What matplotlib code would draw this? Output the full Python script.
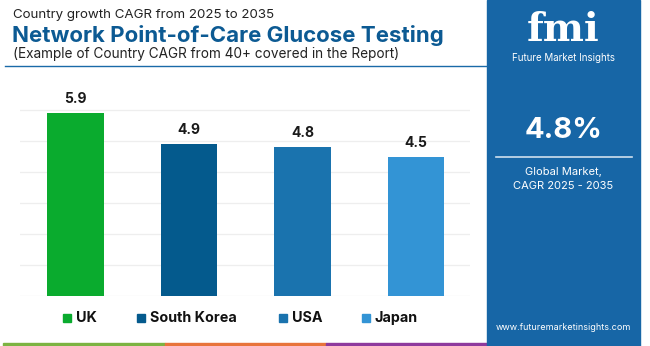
import matplotlib.pyplot as plt
from matplotlib.patches import Rectangle
from matplotlib.lines import Line2D

countries = ['UK', 'South Korea', 'USA', 'Japan']
cagr = [5.9, 4.9, 4.8, 4.5]
bar_colors = ['#0aab2e', '#045a8d', '#1a73ae', '#3394d5']
global_cagr = '4.8%'

plt.rcParams['font.family'] = ['Inter', 'DejaVu Sans']

W, H = 650, 346
fig = plt.figure(figsize=(W / 100, H / 100), dpi=100)
fig.patch.set_facecolor('white')


def px(x, y):
    return x / W, 1 - y / H


# bar chart area
ax = fig.add_axes([20 / W, (H - 296) / H, 450 / W, 196 / H])
x = range(len(countries))
bars = ax.bar(x, cagr, width=0.5, color=bar_colors, zorder=3)
for b, v in zip(bars, cagr):
    ax.text(b.get_x() + b.get_width() / 2, v + 0.22, f'{v}', ha='center',
            va='bottom', fontsize=10, fontweight='bold', color='#1a1a1a')
ax.set_xlim(-0.489, 3.475)
ax.set_ylim(0, 196 / 31)
ax.set_yticks(range(0, 7))
ax.grid(axis='y', color='#eeeeee', linewidth=0.9, zorder=0)
ax.tick_params(left=False, bottom=False, labelleft=False, labelbottom=False)
for s in ax.spines.values():
    s.set_visible(False)

# titles
fig.text(*px(13, 15), 'Country growth CAGR from 2025 to 2035', fontsize=9.6,
         color='#222222', va='center')
fig.text(*px(12, 35), 'Network Point-of-Care Glucose Testing', fontsize=16,
         fontweight='bold', color='#0c5a93', va='center')
fig.text(*px(13, 54), '(Example of Country CAGR from 40+ covered in the Report)',
         fontsize=9.8, color='#222222', va='center')
fig.add_artist(Line2D([5 / W, 487 / W], [1 - 66 / H] * 2, color='#1a6aa8', lw=1))

# legend
leg_x = [63, 137, 279, 362]
for lx, name, c in zip(leg_x, countries, bar_colors):
    fig.add_artist(Rectangle(px(lx, 322), 8 / W, 8 / H, color=c))
    fig.text(*px(lx + 13, 318), name, fontsize=10.3, fontweight='bold',
             color='#111111', va='center')

# bottom stripes
for x0, x1, c in [(3, 165, '#7cb342'), (165, 326, '#e8743b'), (326, 487, '#8e3a9d')]:
    fig.add_artist(Rectangle(px(x0, 346), (x1 - x0) / W, 3 / H, color=c))

# right panel
fig.add_artist(Rectangle(px(487, 346), 153 / W, 346 / H, color='#1766a6'))
cx = 563.5
fig.text(*px(cx, 41), 'fmi', fontsize=28, fontweight='bold', color='white',
         ha='center', va='baseline', family=['DejaVu Serif'])
fig.text(*px(cx, 58), 'Future Market Insights', fontsize=7, color='white',
         ha='center', va='center')
fig.text(*px(cx, 131), global_cagr, fontsize=21, fontweight='bold',
         color='white', ha='center', va='center')
fig.add_artist(Line2D([496 / W, 632 / W], [1 - 157 / H] * 2, color='#cfe0ee', lw=1.2))
fig.text(*px(cx, 172), 'Global Market,', fontsize=8, color='white',
         ha='center', va='center')
fig.text(*px(cx, 186), 'CAGR 2025 - 2035', fontsize=8, color='white',
         ha='center', va='center')
fig.text(*px(cx, 328), 'www.futuremarketinsights.com', fontsize=6.5,
         color='white', ha='center', va='center')

fig.savefig('out.png', dpi=100, facecolor='white')
